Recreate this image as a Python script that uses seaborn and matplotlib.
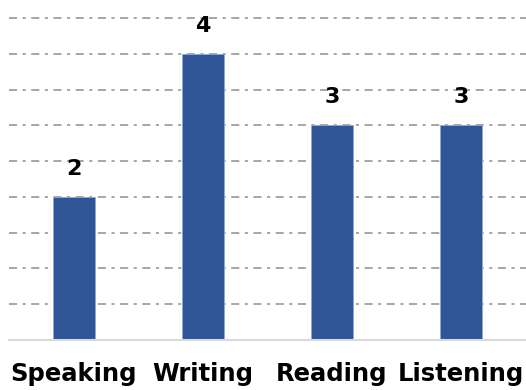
import matplotlib
matplotlib.use("Agg")
import matplotlib.pyplot as plt
import seaborn as sns
import pandas as pd

skills = ["Speaking", "Writing", "Reading", "Listening"]
scores = [2, 4, 3, 3]

df = pd.DataFrame({"skill": skills, "score": scores})

sns.set_style("white")
plt.rcParams["font.family"] = ["DejaVu Sans"]

fig = plt.figure(figsize=(5.26, 3.9), dpi=100)
ax = fig.add_axes([9.5 / 526, 50 / 390, 516 / 526, 322 / 390])

sns.barplot(data=df, x="skill", y="score", color="#2F5597", width=0.32,
            saturation=1, edgecolor="#8FAADC", linewidth=0.6, ax=ax, zorder=3)

ax.set_ylim(0, 4.5)
ax.set_xlim(-0.5, len(skills) - 0.5)

# dash-dot horizontal gridlines every half point
lw = 1.4
for y in [0.5, 1, 1.5, 2, 2.5, 3, 3.5, 4, 4.5]:
    ax.axhline(y, color="#A6A6A6", linewidth=lw,
               dashes=(5.8 / lw, 4.0 / lw, 2.2 / lw, 4.0 / lw), zorder=1,
               clip_on=False)
ax.axhline(0, color="#D9D9D9", linewidth=1.5, zorder=4, clip_on=False)

for p, v in zip(ax.patches, scores):
    ax.annotate(str(v), (p.get_x() + p.get_width() / 2, v), xytext=(0, 13),
                textcoords="offset points", ha="center", va="bottom",
                fontsize=16, fontweight="bold", color="black")

for s in ax.spines.values():
    s.set_visible(False)
ax.set_yticks([])
ax.set_xlabel("")
ax.set_ylabel("")
ax.tick_params(axis="x", length=0, pad=16, colors="black")
for lbl in ax.get_xticklabels():
    lbl.set_fontsize(17.5)
    lbl.set_fontweight("bold")
    lbl.set_color("black")

fig.savefig("out.png", dpi=100)
